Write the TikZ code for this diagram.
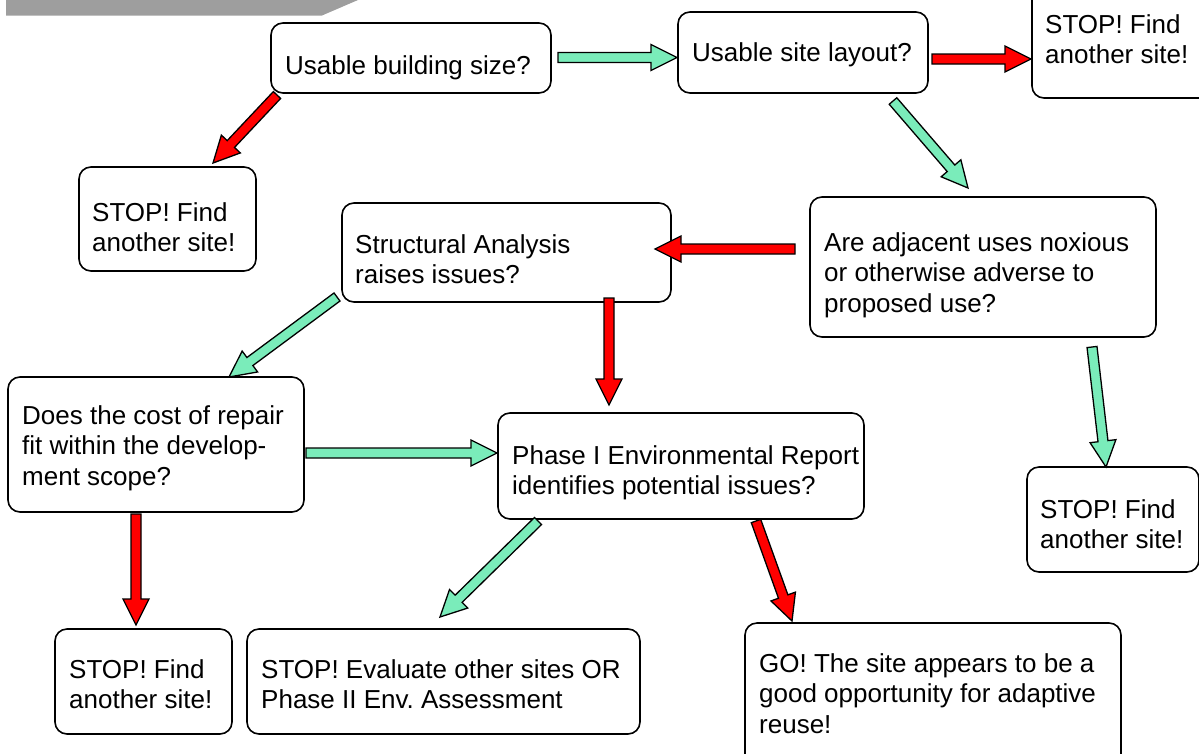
\documentclass[tikz,border=0pt]{standalone}
\usepackage{fontspec}
\setmainfont{Liberation Sans}
\usetikzlibrary{calc}
\frenchspacing
\definecolor{arrgreen}{RGB}{122,236,186}
\definecolor{arrred}{RGB}{255,0,0}
\definecolor{bargrey}{RGB}{158,158,158}
\tikzset{
  box/.style={draw=black, line width=1.6pt, rounded corners=12pt, fill=white},
  txt/.style={anchor=north west, inner sep=0pt, align=left, font=\fontsize{26}{30.5}\selectfont},
  arrowstyle/.style={draw=black, line width=1.3pt, line join=miter},
}
\newcommand{\blockarrow}[3]{%
  \draw[arrowstyle, fill=#1] let \p1=(#2), \p2=(#3),
    \n1={atan2(\y2-\y1,\x2-\x1)}, \n2={veclen(\x2-\x1,\y2-\y1)-26} in
    ($(\p1)+(\n1+90:5pt)$) -- ++(\n1:\n2) -- ++(\n1+90:8pt) -- (\p2)
    -- ($(\p1)+(\n1:\n2)+(\n1-90:13pt)$) -- ++(\n1+90:8pt)
    -- ($(\p1)+(\n1-90:5pt)$) -- cycle;
}
\newcommand{\boxat}[5]{% name, x1, y1, x2, y2
  \node[box, inner sep=0pt, minimum width={(#4-#2)*1pt}, minimum height={(#5-#3)*1pt}] (#1) at ({(#2+#4)/2},{(#3+#5)/2}) {};
}
\begin{document}
\begin{tikzpicture}[x=1pt, y=-1pt]
\useasboundingbox (0,0) rectangle (1199,753);
\clip (0,0) rectangle (1199,753);
% grey bar
\fill[bargrey] (6,-2) -- (358,-2) -- (358,0) -- (322,15.5) -- (6,15.5) -- cycle;
% boxes
\boxat{b1}{271}{23}{551}{93}
\boxat{b2}{678}{12}{928}{93}
\boxat{b3}{1032}{-20}{1215}{98}
\boxat{b4}{79}{167}{256}{271}
\boxat{b5}{342}{203}{671}{302}
\boxat{b6}{810}{197}{1156}{337}
\boxat{b7}{8}{377}{304}{512}
\boxat{b8}{498}{413}{864}{519}
\boxat{b9}{1027}{467}{1199}{572}
\boxat{b10}{55}{629}{232}{734}
\boxat{b11}{247}{629}{640}{734}
\boxat{b12}{745}{623}{1121}{770}
% texts
\node[txt] (t1) at (285,{74-21.35}) {\strut Usable building size?};
\node[txt] (t2) at (692,{61-21.35}) {\strut Usable site layout?};
\node[txt] (t3) at (1045,{33-21.35}) {\strut STOP! Find\\another site!};
\node[txt] (t4) at (92,{221-21.35}) {\strut STOP! Find\\another site!};
\node[txt] (t5) at (355,{253-21.35}) {\strut Structural Analysis\\raises issues?};
\node[txt] (t6) at (824,{251-21.35}) {\strut Are adjacent uses noxious\\or otherwise adverse to\\proposed use?};
\node[txt] (t7) at (22,{424-21.35}) {\strut Does the cost of repair\\fit within the develop-\\ment scope?};
\node[txt] (t8) at (512,{464-21.35}) {\strut Phase I Environmental Report\\identifies potential issues?};
\node[txt] (t9) at (1040,{518-21.35}) {\strut STOP! Find\\another site!};
\node[txt] (t10) at (69,{678-21.35}) {\strut STOP! Find\\another site!};
\node[txt] (t11) at (261,{678-21.35}) {\strut STOP! Evaluate other sites OR\\Phase II Env. Assessment};
\node[txt] (t12) at (759,{672-21.35}) {\strut GO! The site appears to be a\\good opportunity for adaptive\\reuse!};
% arrow end points
\coordinate (a1s) at (558,57.5);   \coordinate (a1e) at (677,57.5);
\coordinate (a2s) at (932,59);     \coordinate (a2e) at (1031,59);
\coordinate (a3s) at (277,95);     \coordinate (a3e) at (213,163);
\coordinate (a4s) at (893,101);    \coordinate (a4e) at (968,188);
\coordinate (a5s) at (795,249);    \coordinate (a5e) at (655,249);
\coordinate (a6s) at (609,298);    \coordinate (a6e) at (609,405);
\coordinate (a7s) at (337,297);    \coordinate (a7e) at (229,377);
\coordinate (a8s) at (306,453);    \coordinate (a8e) at (497,453);
\coordinate (a9s) at (1092,347);   \coordinate (a9e) at (1106,467);
\coordinate (a10s) at (136,514);   \coordinate (a10e) at (136,625);
\coordinate (a11s) at (538,521);   \coordinate (a11e) at (440,617);
\coordinate (a12s) at (756,521);   \coordinate (a12e) at (792,621);
\blockarrow{arrgreen}{a1s}{a1e}
\blockarrow{arrred}{a2s}{a2e}
\blockarrow{arrred}{a3s}{a3e}
\blockarrow{arrgreen}{a4s}{a4e}
\blockarrow{arrred}{a5s}{a5e}
\blockarrow{arrred}{a6s}{a6e}
\blockarrow{arrgreen}{a7s}{a7e}
\blockarrow{arrgreen}{a8s}{a8e}
\blockarrow{arrgreen}{a9s}{a9e}
\blockarrow{arrred}{a10s}{a10e}
\blockarrow{arrgreen}{a11s}{a11e}
\blockarrow{arrred}{a12s}{a12e}
\end{tikzpicture}
\end{document}
